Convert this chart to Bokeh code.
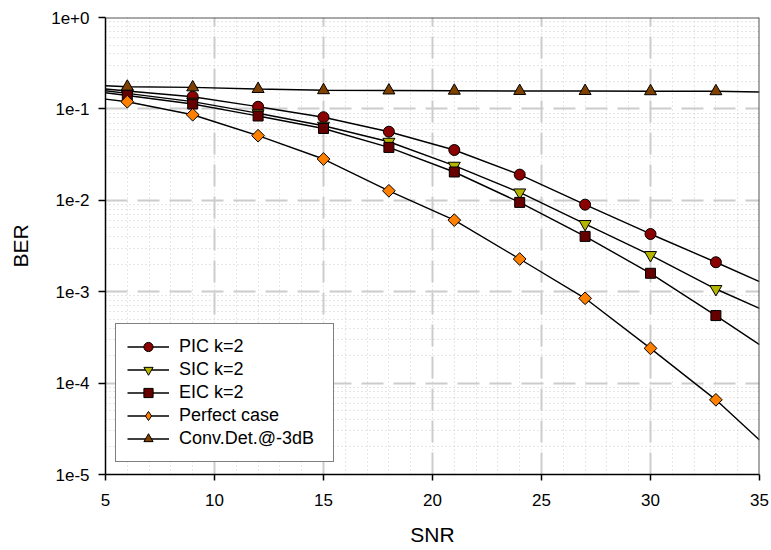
from bokeh.plotting import figure
from bokeh.models import (Range1d, SingleIntervalTicker, FixedTicker, CustomJSTickFormatter,
                          Legend, LegendItem, Span)
from bokeh.embed import file_html
from bokeh.resources import INLINE

# ---------------- data ----------------
snr = [6, 9, 12, 15, 18, 21, 24, 27, 30, 33]
snr_start = 5
snr_end = 35

pic = [0.157, 0.136, 0.1056, 0.0811, 0.0563, 0.0355, 0.0191, 0.00896, 0.00428, 0.00210]
sic = [0.148, 0.120, 0.0897, 0.0655, 0.0437, 0.0239, 0.0122, 0.00551, 0.00252, 0.00107]
eic = [0.140, 0.113, 0.0836, 0.0611, 0.0379, 0.0204, 0.00949, 0.00403, 0.00159, 0.000548]
perfect = [0.1198, 0.0863, 0.0509, 0.0283, 0.0127, 0.00607, 0.00228, 0.000847, 0.000240, 0.0000656]
conv = [0.175, 0.172, 0.165, 0.160, 0.159, 0.158, 0.157, 0.157, 0.156, 0.156]

# line values at the plot edges (SNR 5 and 35)
pic_edges = [0.165, 0.00129]
sic_edges = [0.158, 0.000658]
eic_edges = [0.150, 0.000264]
perfect_edges = [0.128, 0.0000239]
conv_edges = [0.179, 0.153]

labels = ["PIC k=2", "SIC k=2", "EIC k=2", "Perfect case", "Conv.Det.@-3dB"]

x_ticks_interval = 5
y_ticks = [1e-5, 1e-4, 1e-3, 1e-2, 1e-1, 1e0]
y_tick_labels = ["1e-5", "1e-4", "1e-3", "1e-2", "1e-1", "1e+0"]

# ---------------- figure ----------------
FONT = "Liberation Sans"
p = figure(width=771, height=550, y_axis_type="log",
           x_range=Range1d(5, 35), y_range=Range1d(1e-5, 1),
           output_backend="svg", toolbar_location=None,
           min_border_left=105, min_border_right=12, min_border_top=17, min_border_bottom=76,
           x_axis_label="SNR", y_axis_label="BER")
p.outline_line_color = None
p.background_fill_color = "white"
p.border_fill_color = "white"

p.xaxis.ticker = SingleIntervalTicker(interval=x_ticks_interval, num_minor_ticks=5)
minor = [m * t for t in y_ticks[:-1] for m in range(2, 10)]
p.yaxis.ticker = FixedTicker(ticks=y_ticks, minor_ticks=minor)
p.yaxis.formatter = CustomJSTickFormatter(args=dict(tvals=y_ticks, tlabels=y_tick_labels), code="""
for (let i = 0; i < tvals.length; i++) {
  if (Math.abs(Math.log10(tvals[i]) - Math.log10(tick)) < 1e-6) return tlabels[i];
}
return "";
""")

for ax in (p.xaxis[0], p.yaxis[0]):
    ax.axis_line_color = "black"
    ax.axis_line_width = 1.5
    ax.major_tick_line_color = "black"
    ax.major_tick_line_width = 1.5
    ax.major_tick_in = 0
    ax.minor_tick_line_color = None
    ax.major_label_text_font = FONT
    ax.major_label_text_font_size = "17px"
    ax.major_label_text_color = "black"
    ax.axis_label_text_font = FONT
    ax.axis_label_text_font_size = "21px"
    ax.axis_label_text_font_style = "normal"
    ax.axis_label_text_color = "black"
    ax.axis_label_standoff = 16

p.xaxis.major_tick_out = 6
p.xaxis.major_label_standoff = 13
p.xaxis.axis_label_standoff = 14
p.yaxis.major_tick_out = 7
p.yaxis.major_label_standoff = 9

for g in (p.xgrid[0], p.ygrid[0]):
    g.grid_line_color = "#cccccc"
    g.grid_line_width = 2
    g.grid_line_dash = "22 10"
    g.minor_grid_line_color = "#cccccc"
    g.minor_grid_line_width = 1
    g.minor_grid_line_dash = "1 3"

# top and right frame borders
p.add_layout(Span(location=p.y_range.end, dimension="width", line_color="#555555", line_width=2))
p.add_layout(Span(location=p.x_range.end, dimension="height", line_color="#555555", line_width=2))

series = [
    (pic, pic_edges, "circle", "#8B0000", 11),
    (sic, sic_edges, "inverted_triangle", "#B5B500", 12),
    (eic, eic_edges, "square", "#660000", 10),
    (perfect, perfect_edges, "diamond_sq", "#FF8000", 9),
    (conv, conv_edges, "triangle", "#804000", 12),
]

items = []
for (vals, edges, marker, color, size), lab in zip(series, labels):
    xs = [snr_start] + snr + [snr_end]
    ys = [edges[0]] + vals + [edges[1]]
    lr = p.line(xs, ys, line_color="black", line_width=1.4)
    if marker == "diamond_sq":
        # diamond used for the legend swatch; hidden under the rotated squares
        lg = p.scatter(snr, vals, marker="diamond", size=size,
                       fill_color=color, line_color="black", line_width=1)
        sr = p.scatter(snr, vals, marker="square", angle=0.7853981634, size=size,
                       fill_color=color, line_color="black", line_width=1)
        items.append(LegendItem(label=lab, renderers=[lr, lg]))
    else:
        sr = p.scatter(snr, vals, marker=marker, size=size,
                       fill_color=color, line_color="black", line_width=1)
        items.append(LegendItem(label=lab, renderers=[lr, sr]))

legend = Legend(items=items, location=(10, 12))
legend.border_line_color = "black"
legend.border_line_width = 1.3
legend.background_fill_color = "white"
legend.background_fill_alpha = 1
legend.label_text_font = FONT
legend.label_text_font_size = "18px"
legend.label_text_color = "black"
legend.glyph_width = 42
legend.glyph_height = 23
legend.label_height = 20
legend.label_width = 143
legend.spacing = 0
legend.padding = 11
legend.label_standoff = 10
legend.margin = 0
p.add_layout(legend, "center")

open("out.html", "w").write(file_html(p, INLINE))
